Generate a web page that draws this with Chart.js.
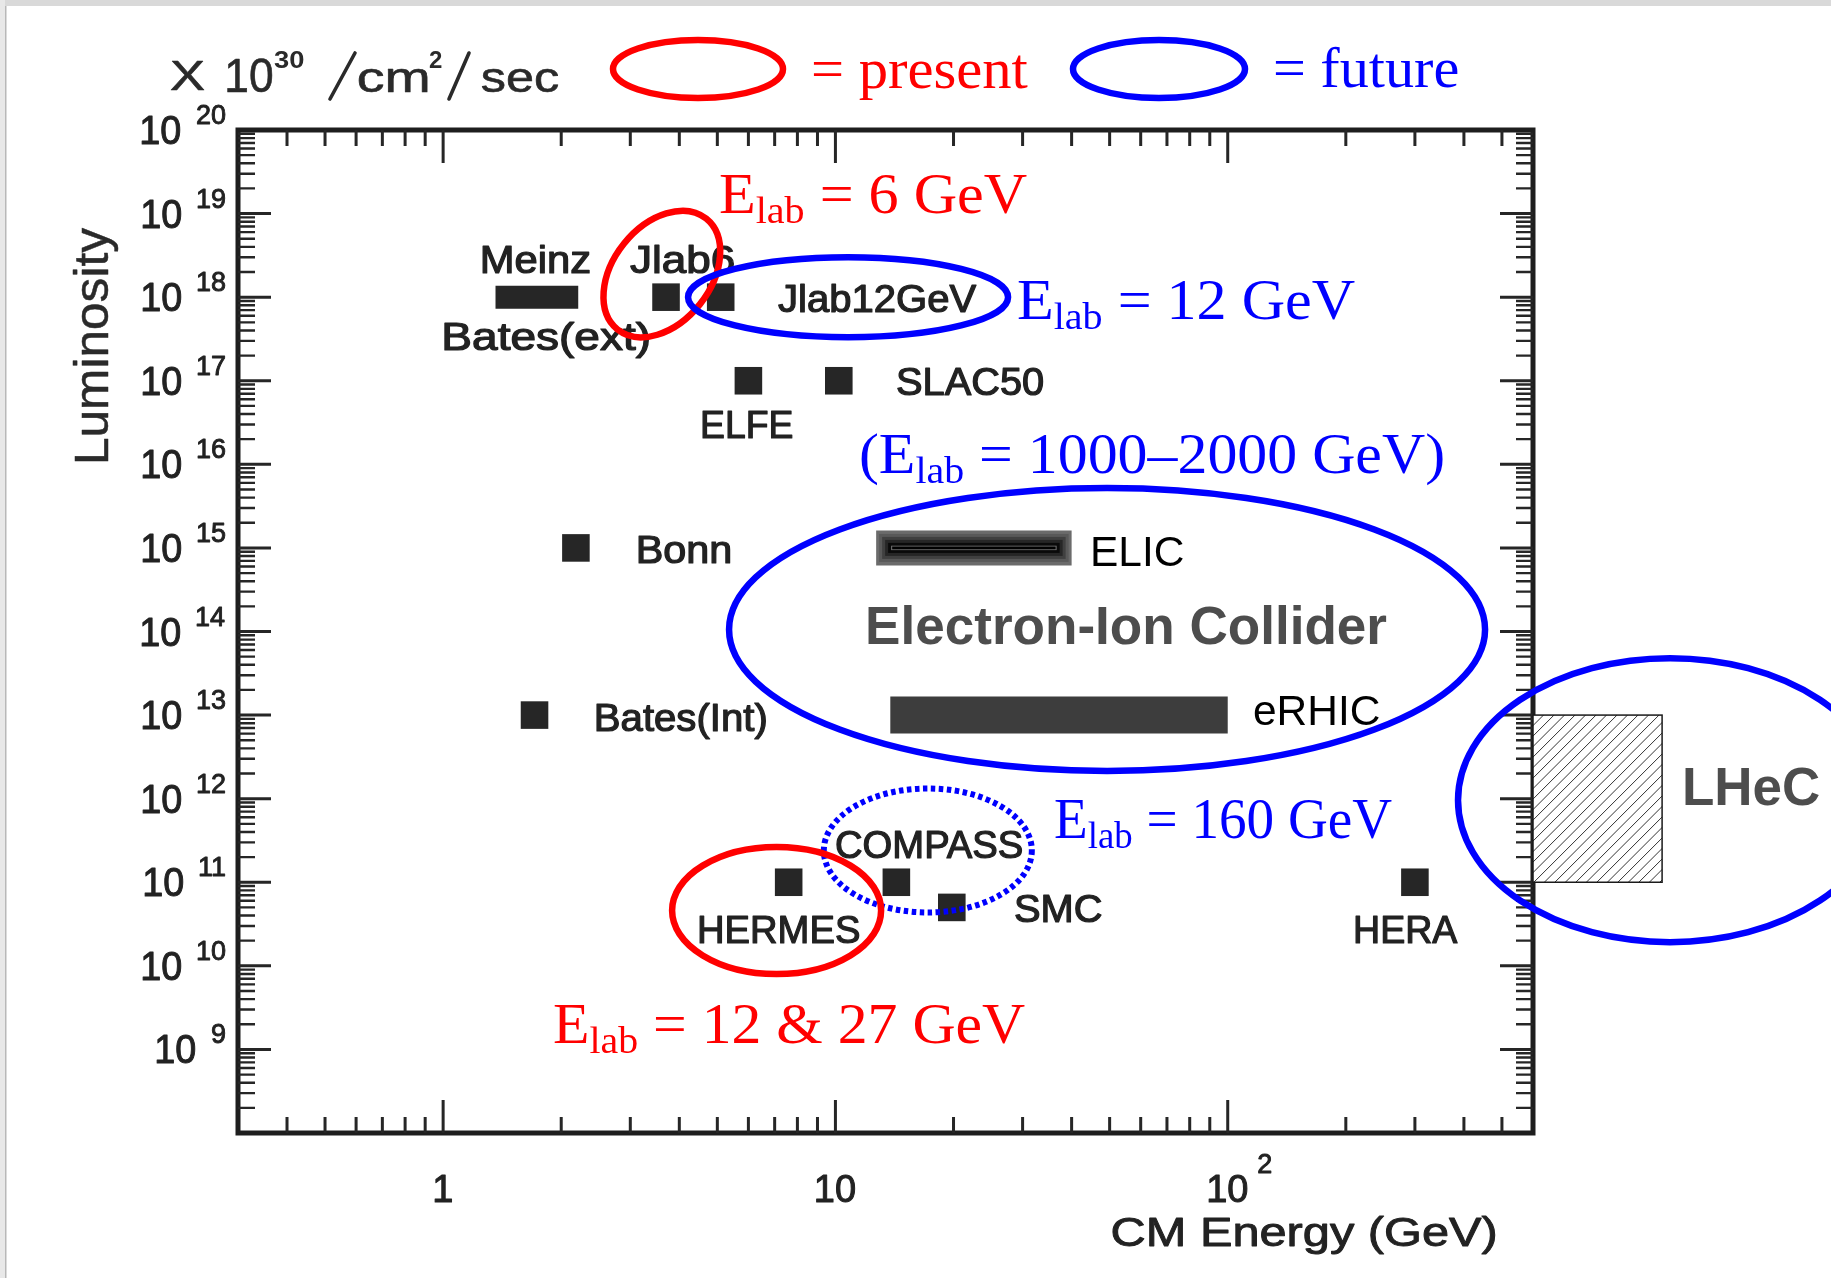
<!DOCTYPE html>
<html><head><meta charset="utf-8">
<script src="https://cdn.jsdelivr.net/npm/chart.js@4.4.1/dist/chart.umd.min.js"></script>
<style>html,body{margin:0;padding:0;background:#fff;overflow:hidden}canvas{display:block}</style>
</head><body>
<canvas id="c" width="1831" height="1278"></canvas>
<script>
// ---------------- data ----------------
const pointNames  = ['Jlab6', 'Jlab12GeV', 'ELFE', 'SLAC50', 'Bonn', 'Bates(Int)', 'HERMES', 'COMPASS', 'SMC', 'HERA'];
const pointEnergy = [3.7, 5.1, 6.0, 10.2, 2.18, 1.71, 7.6, 14.3, 19.8, 300];
const pointLumi   = [1e18, 1e18, 1e17, 1e17, 1e15, 1e13, 1e11, 1e11, 5e10, 1e11];

const barNames      = ['Meinz', 'ELIC', 'eRHIC'];
const barEnergyFrom = [1.36, 12.7, 13.8];
const barEnergyTo   = [2.21, 40, 100];
const barLumi       = [1e18, 1e15, 1e13];

const lhecEnergy = [600, 1280];
const lhecLumi   = [1e11, 1e13];

const yTickExponents = [9, 10, 11, 12, 13, 14, 15, 16, 17, 18, 19, 20];
const xTickValues = [1, 10, 100];
const xTickLabels = ['1', '10', '10^2'];

// ---------------- annotation config ----------------
const SANS = '"Liberation Sans", Arial, Helvetica, sans-serif';
const SERIF = '"Liberation Serif", "Times New Roman", serif';
const RED = '#ff0000', BLUE = '#0000ff', INK = '#222222';

// text labels: [text, inkLeft, inkRight, baseline]
const markLabels = [
  ['Meinz', 483, 590, 273], ['Jlab6', 630, 734, 273], ['Bates(ext)', 445, 649, 350],
  ['Jlab12GeV', 778, 977, 312], ['ELFE', 703, 792, 438], ['SLAC50', 897, 1043, 395],
  ['Bonn', 639, 730, 563], ['Bates(Int)', 597, 766, 731], ['COMPASS', 836, 1022, 858],
  ['HERMES', 700, 859, 943], ['SMC', 1015, 1101, 922], ['HERA', 1356, 1458, 943]
];
// ellipses anchored at data coordinates (radii in px)
const ellipses = [
  { x: 3.61, y: 1.89e18, rx: 71, ry: 48.6, rot: -0.897, color: RED },
  { x: 10.77, y: 1e18, rx: 160, ry: 40, color: BLUE },
  { x: 49.25, y: 1.057e14, rx: 378, ry: 141.5, color: BLUE },
  { x: 17.2, y: 2.4e11, rx: 104, ry: 62, color: BLUE, dash: [4.5, 3.5], lw: 6 },
  { x: 7.08, y: 4.59e10, rx: 104.5, ry: 63.5, color: RED },
  { x: 1341, y: 9.6e11, rx: 212, ry: 142, color: BLUE }
];

function fitText(ctx, s, left, right, baseline, font, color, stroke) {
  ctx.save();
  ctx.font = font;
  ctx.textAlign = 'left'; ctx.textBaseline = 'alphabetic';
  const m = ctx.measureText(s);
  const inkW = m.actualBoundingBoxLeft + m.actualBoundingBoxRight;
  const sx = right != null ? (right - left) / inkW : 1;
  ctx.translate(left + m.actualBoundingBoxLeft * sx, baseline);
  ctx.scale(sx, 1);
  ctx.fillStyle = color;
  ctx.fillText(s, 0, 0);
  if (stroke) { ctx.lineWidth = stroke; ctx.strokeStyle = color; ctx.lineJoin = 'round'; ctx.strokeText(s, 0, 0); }
  ctx.restore();
}
function richText(ctx, pieces, left, right, baseline, color) {
  ctx.save();
  const meas = pieces.map(p => { ctx.font = p[1] + 'px ' + SERIF; return ctx.measureText(p[0]); });
  const pos = []; let x = 0;
  meas.forEach(m => { pos.push(x); x += m.width; });
  const n = pieces.length;
  const inkL = pos[0] - meas[0].actualBoundingBoxLeft;
  const inkR = pos[n - 1] + meas[n - 1].actualBoundingBoxRight;
  const sx = (right - left) / (inkR - inkL);
  ctx.translate(left - inkL * sx, baseline);
  ctx.scale(sx, 1);
  ctx.fillStyle = color; ctx.textAlign = 'left'; ctx.textBaseline = 'alphabetic';
  pieces.forEach((p, i) => { ctx.font = p[1] + 'px ' + SERIF; ctx.fillText(p[0], pos[i], p[2]); });
  ctx.restore();
}
function ellipse(ctx, cx, cy, rx, ry, rot, color, lw, dash) {
  ctx.save();
  ctx.beginPath();
  ctx.ellipse(cx, cy, rx, ry, rot || 0, 0, Math.PI * 2);
  ctx.strokeStyle = color; ctx.lineWidth = lw || 6.5;
  if (dash) ctx.setLineDash(dash);
  ctx.stroke();
  ctx.restore();
}

const decor = {
  id: 'decor',
  beforeDraw(chart) {
    const ctx = chart.ctx;
    ctx.save();
    ctx.fillStyle = '#ffffff'; ctx.fillRect(0, 0, chart.width, chart.height);
    ctx.fillStyle = '#d9d9d9'; ctx.fillRect(0, 0, chart.width, 6);
    ctx.fillStyle = '#e8e8e8'; ctx.fillRect(0, 0, 5, chart.height);
    ctx.fillStyle = '#b8b8b8'; ctx.fillRect(5, 6, 1.5, chart.height);
    ctx.restore();
  },
  afterDatasetsDraw(chart) {
    const ctx = chart.ctx, xs = chart.scales.x, ys = chart.scales.y, a = chart.chartArea;
    const X = v => xs.getPixelForValue(v), Y = v => ys.getPixelForValue(v);
    ctx.save();

    // ELIC bar inner shading (nested frames)
    {
      const x1 = X(barEnergyFrom[1]), x2 = X(barEnergyTo[1]), yc = Y(barLumi[1]);
      const shades = [['#595959', 3, 14], ['#404040', 6, 11], ['#262626', 9, 8], ['#0a0a0a', 12, 5], ['#777777', 15, 2.2], ['#000000', 16, 1.4]];
      shades.forEach(s => { ctx.fillStyle = s[0]; ctx.fillRect(x1 + s[1], yc - s[2], x2 - x1 - 2 * s[1], 2 * s[2]); });
    }

    // frame
    ctx.strokeStyle = '#1e1e1e'; ctx.lineWidth = 5; ctx.lineCap = 'square';
    ctx.strokeRect(a.left, a.top, a.right - a.left, a.bottom - a.top);
    ctx.lineCap = 'butt';

    // x ticks (bottom up, top down)
    ctx.strokeStyle = '#262626';
    for (let e = -1; e <= 2; e++) for (let m = 1; m <= 9; m++) {
      const v = m * Math.pow(10, e);
      if (v <= xs.min * 1.0001 || v >= xs.max * 0.9999) continue;
      const px = X(v), len = m === 1 ? 33 : 16;
      ctx.lineWidth = 3;
      ctx.beginPath();
      ctx.moveTo(px, a.bottom); ctx.lineTo(px, a.bottom - len);
      ctx.moveTo(px, a.top); ctx.lineTo(px, a.top + len);
      ctx.stroke();
    }
    // y ticks (left right-ward, right left-ward)
    for (let e = 8; e <= 19; e++) for (let m = 1; m <= 9; m++) {
      const v = m * Math.pow(10, e);
      if (v <= ys.min * 1.0001 || v >= ys.max * 0.9999) continue;
      const py = Y(v), len = m === 1 ? 33 : 17;
      ctx.lineWidth = m === 1 ? 3 : 2.4;
      ctx.beginPath();
      ctx.moveTo(a.left, py); ctx.lineTo(a.left + len, py);
      ctx.moveTo(a.right, py); ctx.lineTo(a.right - len, py);
      ctx.stroke();
    }

    // y tick labels
    yTickExponents.forEach(k => {
      const ty = Y(Math.pow(10, k));
      const sup = String(k);
      ctx.font = '27px ' + SANS;
      const ms = ctx.measureText(sup);
      const supW = ms.actualBoundingBoxLeft + ms.actualBoundingBoxRight;
      const supL = 225 - supW;
      fitText(ctx, sup, supL, 225, ty - 6, '27px ' + SANS, INK, 0.9);
      const tenR = supL - 17;
      fitText(ctx, '10', tenR - 38, tenR, ty + 14, '40px ' + SANS, INK, 1.0);
    });
    // x tick labels
    xTickValues.forEach((v, i) => {
      const px = X(v);
      const parts = xTickLabels[i].split('^');
      ctx.font = '38px ' + SANS;
      const m = ctx.measureText(parts[0]);
      const w = m.actualBoundingBoxLeft + m.actualBoundingBoxRight;
      fitText(ctx, parts[0], px - w / 2, null, 1202, '38px ' + SANS, INK, 1.0);
      if (parts[1]) fitText(ctx, parts[1], px + w / 2 + 11, null, 1173, '27px ' + SANS, INK, 0.9);
    });
    // axis titles
    fitText(ctx, 'CM Energy (GeV)', 1113, 1495, 1246, '40px ' + SANS, INK, 0.9);
    ctx.save();
    ctx.translate(108, 345); ctx.rotate(-Math.PI / 2);
    fitText(ctx, 'Luminosity', -117, 117, 0, '48px ' + SANS, '#2a2a2a', 0.5);
    ctx.restore();

    // title: X 10^30 /cm^2/sec
    const tf = '42px ' + SANS, tc = '#2a2a2a';
    fitText(ctx, 'X', 170, 205, 90, tf, tc, 0.6);
    fitText(ctx, '10', 227, 272, 92, '48px ' + SANS, tc, 0.6);
    fitText(ctx, '30', 274, 304, 68, 'bold 24px ' + SANS, tc);
    ctx.strokeStyle = tc; ctx.lineWidth = 3.6; ctx.lineCap = 'round';
    ctx.beginPath(); ctx.moveTo(330, 99); ctx.lineTo(355, 53); ctx.stroke();
    fitText(ctx, 'cm', 358, 428, 92, tf, tc, 0.6);
    fitText(ctx, '2', 429, 442, 68, 'bold 24px ' + SANS, tc);
    ctx.beginPath(); ctx.moveTo(449, 99); ctx.lineTo(469, 53); ctx.stroke();
    ctx.lineCap = 'butt';
    fitText(ctx, 'sec', 482, 558, 92, tf, tc, 0.6);

    // LHeC hatched box (beyond the axis)
    {
      const x1 = X(lhecEnergy[0]), x2 = X(lhecEnergy[1]);
      const y1 = Y(lhecLumi[1]), y2 = Y(lhecLumi[0]);
      ctx.save();
      ctx.fillStyle = '#ffffff'; ctx.fillRect(x1, y1, x2 - x1, y2 - y1);
      ctx.beginPath(); ctx.rect(x1, y1, x2 - x1, y2 - y1); ctx.clip();
      ctx.strokeStyle = '#333333'; ctx.lineWidth = 1;
      const h = y2 - y1;
      for (let x = x1 - h; x < x2 + 2; x += 10.5) {
        ctx.beginPath(); ctx.moveTo(x, y2); ctx.lineTo(x + h, y1); ctx.stroke();
      }
      ctx.restore();
      ctx.strokeStyle = '#1a1a1a'; ctx.lineWidth = 1.5;
      ctx.strokeRect(x1, y1, x2 - x1, y2 - y1);
    }

    // labels next to marks
    markLabels.forEach(l => fitText(ctx, l[0], l[1], l[2], l[3], '38px ' + SANS, INK, 1.2));
    fitText(ctx, 'ELIC', 1093, 1183, 566, '42px ' + SANS, '#000000');
    fitText(ctx, 'eRHIC', 1254, 1379, 725, '42px ' + SANS, '#000000');
    fitText(ctx, 'Electron-Ion Collider', 868, 1387, 644, 'bold 54px ' + SANS, '#4d4d4d');
    fitText(ctx, 'LHeC', 1685, 1819, 805, 'bold 53px ' + SANS, '#4d4d4d');

    // coloured annotation text
    richText(ctx, [['E', 57, 0], ['lab', 38, 10], [' = 6 GeV', 57, 0]], 720, 1027, 213, RED);
    richText(ctx, [['E', 57, 0], ['lab', 38, 10], [' = 12 GeV', 57, 0]], 1018, 1355, 319, BLUE);
    richText(ctx, [['(E', 57, 0], ['lab', 38, 10], [' = 1000\u20132000 GeV)', 57, 0]], 861, 1443, 473, BLUE);
    richText(ctx, [['E', 57, 0], ['lab', 38, 10], [' = 160 GeV', 57, 0]], 1055, 1392, 838, BLUE);
    richText(ctx, [['E', 57, 0], ['lab', 38, 10], [' = 12 & 27 GeV', 57, 0]], 554, 1025, 1043, RED);

    // legend
    ellipse(ctx, 698, 69, 85, 29, 0, RED, 6.5);
    richText(ctx, [['= present', 57, 0]], 813, 1028, 88, RED);
    ellipse(ctx, 1159, 69, 86, 29, 0, BLUE, 6.5);
    richText(ctx, [['= future', 57, 0]], 1275, 1458, 87, BLUE);

    // annotation ellipses
    ellipses.forEach(e => ellipse(ctx, X(e.x), Y(e.y), e.rx, e.ry, e.rot, e.color, e.lw, e.dash));

    ctx.restore();
  }
};

const barDatasets = barNames.map((name, i) => ({
  type: 'line',
  label: name,
  data: [{ x: barEnergyFrom[i], y: barLumi[i] }, { x: barEnergyTo[i], y: barLumi[i] }],
  borderColor: ['#262626', '#6b6b6b', '#3d3d3d'][i],
  borderWidth: [23, 35, 37][i],
  borderCapStyle: 'butt',
  pointRadius: 0,
  showLine: true,
  clip: false
}));

new Chart(document.getElementById('c'), {
  type: 'scatter',
  data: {
    datasets: [
      ...barDatasets,
      {
        label: 'experiments',
        data: pointEnergy.map((e, i) => ({ x: e, y: pointLumi[i], name: pointNames[i] })),
        pointStyle: 'rect',
        pointRadius: 19.5,
        pointHoverRadius: 19.5,
        backgroundColor: '#262626',
        borderColor: '#262626',
        borderWidth: 0
      }
    ]
  },
  options: {
    responsive: false,
    animation: false,
    events: [],
    layout: { padding: { left: 238, right: 1831 - 1533, top: 130, bottom: 1278 - 1133 } },
    scales: {
      x: { type: 'logarithmic', min: 0.3, max: 600, display: false },
      y: { type: 'logarithmic', min: 1e8, max: 1e20, display: false }
    },
    plugins: { legend: { display: false }, tooltip: { enabled: false }, title: { display: false } }
  },
  plugins: [decor]
});
</script>
</body></html>
